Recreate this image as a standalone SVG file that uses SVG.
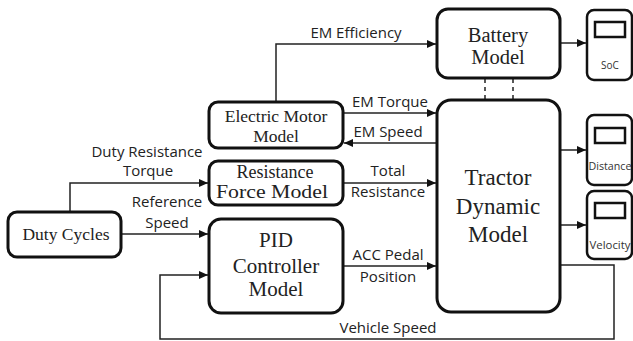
<svg xmlns="http://www.w3.org/2000/svg" width="633" height="341" viewBox="0 0 633 341">
<defs>
<marker id="ah" markerWidth="10" markerHeight="10" refX="9" refY="5" orient="auto" markerUnits="userSpaceOnUse">
<path d="M0,1 L9,5 L0,9 Z" fill="#111"/>
</marker>
<style>
.box{fill:#fff;stroke:#111;stroke-width:3}
.g{fill:#fff;stroke:#111;stroke-width:2.5}
.c{fill:none;stroke:#222;stroke-width:1.5}
.s{font-family:"Liberation Serif","Times New Roman",serif;fill:#222;text-anchor:middle}
.l{font-family:"Open Sans","Noto Sans",sans-serif;font-size:15px;fill:#222;text-anchor:middle}
.gt{font-family:"Open Sans","Noto Sans",sans-serif;font-size:10px;fill:#333;text-anchor:middle}
</style>
</defs>
<rect width="633" height="341" fill="#fff"/>
<g id="connectors">
<polyline class="c" points="276,102 276,44 436,44" marker-end="url(#ah)"/>
<line class="c" x1="560" y1="43" x2="586" y2="43" marker-end="url(#ah)"/>
<line class="c" x1="485" y1="79" x2="485" y2="100" stroke-dasharray="4,4"/>
<line class="c" x1="513" y1="79" x2="513" y2="100" stroke-dasharray="4,4"/>
<line class="c" x1="343" y1="113" x2="436" y2="113" marker-end="url(#ah)"/>
<line class="c" x1="437" y1="143" x2="344" y2="143" marker-end="url(#ah)"/>
<line class="c" x1="560" y1="150" x2="586" y2="150" marker-end="url(#ah)"/>
<line class="c" x1="560" y1="225" x2="586" y2="225" marker-end="url(#ah)"/>
<polyline class="c" points="70,212 70,183 208,183" marker-end="url(#ah)"/>
<line class="c" x1="121" y1="234" x2="208" y2="234" marker-end="url(#ah)"/>
<line class="c" x1="343" y1="183" x2="436" y2="183" marker-end="url(#ah)"/>
<line class="c" x1="343" y1="266" x2="436" y2="266" marker-end="url(#ah)"/>
<polyline class="c" points="560,265 614,265 614,339 160,339 160,275 208,275" marker-end="url(#ah)"/>
<text class="l" x="356" y="38">EM Efficiency</text>
<text class="l" x="390" y="107">EM Torque</text>
<text class="l" x="388" y="137">EM Speed</text>
<text class="l" x="147" y="157">Duty Resistance</text>
<text class="l" x="148" y="176">Torque</text>
<text class="l" x="167" y="207">Reference</text>
<text class="l" x="167" y="228">Speed</text>
<text class="l" x="388" y="176">Total</text>
<text class="l" x="388" y="197">Resistance</text>
<text class="l" x="388" y="260">ACC Pedal</text>
<text class="l" x="388" y="282">Position</text>
<text class="l" x="388" y="333">Vehicle Speed</text>
</g>
<g id="battery">
<rect class="box" x="437" y="9" width="123" height="69" rx="11"/>
<text class="s" x="498" y="42" font-size="20.5">Battery</text>
<text class="s" x="498" y="64" font-size="20.5">Model</text>
</g>
<g id="tractor">
<rect class="box" x="437" y="100" width="123" height="212" rx="14"/>
<text class="s" x="498" y="185" font-size="23">Tractor</text>
<text class="s" x="498" y="214" font-size="23">Dynamic</text>
<text class="s" x="498" y="242" font-size="23">Model</text>
</g>
<g id="em">
<rect class="box" x="209" y="102" width="134" height="46" rx="9"/>
<text class="s" x="276" y="122" font-size="17.5">Electric Motor</text>
<text class="s" x="276" y="142" font-size="17.5">Model</text>
</g>
<g id="resistance">
<rect class="box" x="209" y="161" width="134" height="44" rx="9"/>
<text class="s" x="275" y="178" font-size="18">Resistance</text>
<text class="s" x="272" y="198" font-size="19" textLength="112" lengthAdjust="spacingAndGlyphs">Force Model</text>
</g>
<g id="pid">
<rect class="box" x="209" y="219" width="134" height="94" rx="12"/>
<text class="s" x="276" y="247" font-size="21">PID</text>
<text class="s" x="276" y="273" font-size="21">Controller</text>
<text class="s" x="276" y="296" font-size="21">Model</text>
</g>
<g id="duty">
<rect class="box" x="8" y="212" width="113" height="45" rx="9"/>
<text class="s" x="66" y="240" font-size="17.5">Duty Cycles</text>
</g>
<g id="soc">
<rect class="g" x="587" y="10" width="45" height="70" rx="7"/>
<rect class="g" x="595" y="22" width="30" height="15"/>
<text class="gt" x="610" y="69">SoC</text>
</g>
<g id="distance">
<rect class="g" x="587" y="115" width="45" height="70" rx="7"/>
<rect class="g" x="595" y="128" width="30" height="15"/>
<text class="gt" x="610" y="170" textLength="43" lengthAdjust="spacingAndGlyphs">Distance</text>
</g>
<g id="velocity">
<rect class="g" x="587" y="191" width="45" height="68" rx="7"/>
<rect class="g" x="595" y="203" width="30" height="15"/>
<text class="gt" x="610" y="249" textLength="41" lengthAdjust="spacingAndGlyphs">Velocity</text>
</g>
</svg>
